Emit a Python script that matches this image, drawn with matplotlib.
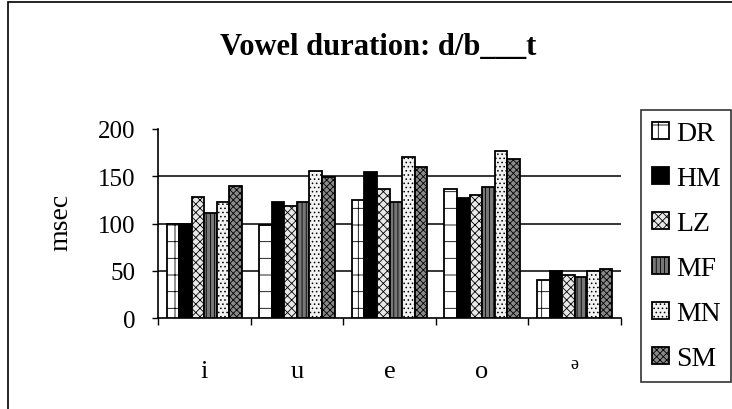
import numpy as np
import matplotlib
matplotlib.use('Agg')
import matplotlib.pyplot as plt
from matplotlib.patches import Rectangle

# data (msec)
vowels = ['i', 'u', 'e', 'o', 'ə']
speakers = ['DR', 'HM', 'LZ', 'MF', 'MN', 'SM']
DR = [100, 98, 125, 136, 40]
HM = [100, 123, 154, 127, 50]
LZ = [128, 118, 136, 130, 45]
MF = [111, 123, 123, 139, 43]
MN = [123, 156, 170, 177, 50]
SM = [140, 149, 160, 168, 52]
series = [DR, HM, LZ, MF, MN, SM]
yticks = [0, 50, 100, 150, 200]

# look of each speaker's bars (face, hatch)
styles = [('white', '+'), ('black', ''), ('#e8e8e8', 'xxxx'),
          ('#777777', '||||'), ('#f2f2f2', '....'), ('#8a8a8a', 'xxxxx')]

plt.rcParams['font.family'] = ['Liberation Serif', 'DejaVu Serif']
plt.rcParams['hatch.linewidth'] = 0.6

fig = plt.figure(figsize=(7.32, 4.1), dpi=100)
ax = fig.add_axes([158 / 732, 1 - 319 / 410, 463 / 732, 189 / 410])

# border round the chart area
fig.patches.append(Rectangle((8 / 732, -0.1), 1.1, 1 - 3 / 410 + 0.1, transform=fig.transFigure,
                             fill=False, edgecolor='black', linewidth=1.2))

x = np.arange(len(vowels))
w = 0.136
for k, (vals, (fc, h)) in enumerate(zip(series, styles)):
    ax.bar(x + (k - 2.5) * w, vals, w, color=fc, hatch=h, edgecolor='black',
           linewidth=1.3, label=speakers[k], zorder=3)

ax.set_xlim(-0.5, len(vowels) - 0.5)
ax.set_ylim(0, 200)
ax.set_yticks(yticks)
ax.tick_params(axis='y', labelsize=18, length=4, width=1, pad=12)
for v in [50, 100, 150]:
    ax.axhline(v, color='black', linewidth=1.1, zorder=1)

ax.set_xticks(np.arange(len(vowels) + 1) - 0.5)
ax.set_xticklabels([])
ax.tick_params(axis='x', which='major', length=5, width=1, direction='out')

# category names under the groups; the schwa sits small and raised
for i, v in enumerate(vowels):
    small = v == 'ə'
    ax.text(i, -0.265 if small else -0.31, v, transform=ax.get_xaxis_transform(),
            fontsize=13 if small else 19, ha='center', va='baseline')

for s in ['top', 'right']:
    ax.spines[s].set_visible(False)
ax.spines['left'].set_linewidth(1.2)
ax.spines['bottom'].set_linewidth(1.2)

ax.set_ylabel('msec', fontsize=20)
ax.yaxis.set_label_coords(-0.183, 0.51)

fig.text(378 / 732, 1 - 55 / 410, 'Vowel duration: d/b___t', fontsize=22,
         fontweight='bold', ha='center', va='baseline')

leg = fig.legend(loc='upper left', bbox_to_anchor=(641 / 732, 1 - 111 / 410),
                 fontsize=20, frameon=True, fancybox=False, edgecolor='black',
                 handlelength=0.6, handleheight=0.6, handletextpad=0.25,
                 labelspacing=0.72, borderpad=0.4, borderaxespad=0)
leg.get_frame().set_linewidth(1.2)

fig.savefig('out.png', dpi=100)
